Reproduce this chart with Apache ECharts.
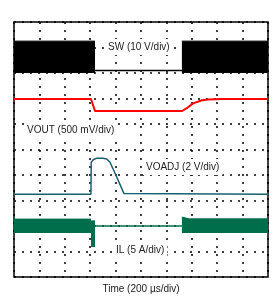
<!DOCTYPE html>
<html>
<head>
<meta charset="utf-8">
<script src="https://cdn.jsdelivr.net/npm/echarts@6/dist/echarts.min.js"></script>
<style>
  html, body { margin: 0; padding: 0; background: #fff; }
</style>
</head>
<body>
<div id="scope" style="width: 279px; height: 306px"></div>
<script>
// time in divisions (0..10), level in divisions (0..10)
const swBandLeft = [[0, 9.25], [3.19, 9.25]]
const swLow = [[3.19, 8.1], [6.61, 8.1]]
const swBandRight = [[6.61, 9.25], [10, 9.25]]
const swBandBottom = 8.0

const vout = [
  [0, 6.98], [3.03, 6.98], [3.19, 6.51], [6.62, 6.51], [6.8, 6.62],
  [7.05, 6.81], [7.4, 6.93], [7.65, 6.96], [8.2, 6.98], [10, 6.98],
]

const voadj = [
  [0, 3.25], [3.03, 3.25], [3.04, 4.5], [3.12, 4.6], [3.26, 4.66],
  [3.5, 4.66], [3.65, 4.63], [3.78, 4.5], [4.04, 3.93], [4.33, 3.27], [10, 3.25],
]

const ilBandLeft = [[0, 2.27], [3.03, 2.27]]
const ilBandBottom = 1.73
const ilSpike = [[3.03, 2.2], [3.19, 2.2]]
const ilSpikeBottom = 1.18
const ilFlat = [[3.19, 2.0], [6.61, 2.0]]
const ilBandRight = [[6.61, 2.35], [6.9, 2.28], [10, 2.28]]

const ticks = [0, 1, 2, 3, 4, 5, 6, 7, 8, 9, 10]

const chart = echarts.init(document.getElementById('scope'))

const dotted = { show: true, lineStyle: { color: '#000', type: [2, 6], width: 1.5 } }

function band(data, bottom, color) {
  return {
    type: 'line',
    data: data,
    symbol: 'none',
    lineStyle: { color: color, width: 1 },
    areaStyle: { color: color, opacity: 1, origin: bottom },
    z: 3,
  }
}
function trace(data, color, width) {
  return {
    type: 'line',
    data: data,
    symbol: 'none',
    lineStyle: { color: color, width: width },
    z: 3,
  }
}

const labelStyle = {
  fontFamily: 'Liberation Sans, Arial, sans-serif',
  fontSize: 10,
  fill: '#222',
  backgroundColor: '#fff',
  padding: [3, 3],
  verticalAlign: 'middle',
}

const option = {
  animation: false,
  grid: {
    left: 14, top: 22, width: 254, height: 255,
    show: true, borderColor: '#000', borderWidth: 1.5,
  },
  xAxis: {
    type: 'value', min: ticks[0], max: ticks[ticks.length - 1], interval: 1,
    axisLine: { show: false }, axisTick: { show: false }, axisLabel: { show: false },
    splitLine: dotted,
  },
  yAxis: {
    type: 'value', min: ticks[0], max: ticks[ticks.length - 1], interval: 1,
    axisLine: { show: false }, axisTick: { show: false }, axisLabel: { show: false },
    splitLine: dotted,
  },
  series: [
    band(swBandLeft, swBandBottom, '#000'),
    trace(swLow, '#000', 1.5),
    band(swBandRight, swBandBottom, '#000'),
    trace(vout, '#ff0000', 2),
    trace(voadj, '#17616f', 1.5),
    band(ilBandLeft, ilBandBottom, '#006e4a'),
    band(ilSpike, ilSpikeBottom, '#006e4a'),
    trace(ilFlat, '#006e4a', 1.5),
    band(ilBandRight, ilBandBottom, '#006e4a'),
  ],
  graphic: [
    { type: 'text', x: 105, y: 47, z: 10, style: Object.assign({ text: 'SW (10 V/div)' }, labelStyle) },
    { type: 'text', x: 24, y: 130, z: 10, style: Object.assign({ text: 'VOUT (500 mV/div)' }, labelStyle) },
    { type: 'text', x: 143, y: 167, z: 10, style: Object.assign({ text: 'VOADJ (2 V/div)' }, labelStyle) },
    { type: 'text', x: 113, y: 250, z: 10, style: Object.assign({ text: 'IL (5 A/div)' }, labelStyle) },
    { type: 'text', x: 141, y: 289, z: 10, style: Object.assign({ text: 'Time (200 µs/div)', align: 'center' }, labelStyle) },
  ],
}

option && chart.setOption(option)
</script>
</body>
</html>
